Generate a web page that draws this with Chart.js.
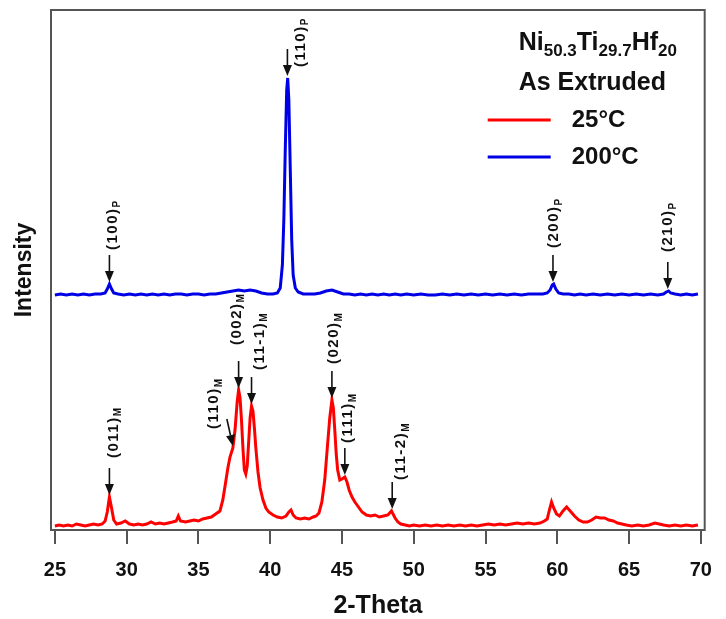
<!DOCTYPE html>
<html>
<head>
<meta charset="utf-8">
<script src="https://cdn.jsdelivr.net/npm/chart.js@4.4.1/dist/chart.umd.min.js"></script>
<style>
  html, body { margin: 0; padding: 0; background: #fff; }
</style>
</head>
<body>
<canvas id="xrdChart" width="726" height="619"></canvas>
<script>
// 2-theta / intensity pairs (arbitrary units, 200C pattern offset upward)
var pattern25C = [
  [25.0,4],[25.3,5],[25.6,4],[25.9,5],[26.2,4],[26.5,6],[26.8,5],[27.1,4],[27.4,5],[27.7,6],[28.0,5],[28.3,6],
  [28.5,9],[28.65,18],[28.8,33],[28.95,22],[29.1,10],[29.3,6],[29.6,7],[29.9,9],[30.2,6],[30.5,5],[30.8,6],
  [31.1,5],[31.4,6],[31.7,8],[32.0,6],[32.3,7],[32.6,6],[32.9,7],[33.2,8],[33.45,9],[33.6,14],[33.75,9],
  [34.1,8],[34.4,9],[34.7,10],[35.0,9],[35.3,11],[35.6,12],[35.9,13],[36.2,16],[36.5,19],[36.7,30],[36.9,48],
  [37.05,62],[37.2,73],[37.4,82],[37.55,100],[37.7,128],[37.8,140],[37.9,132],[38.0,110],[38.1,82],[38.2,60],
  [38.3,56],[38.4,64],[38.5,88],[38.6,112],[38.7,124],[38.8,119],[38.9,102],[39.0,82],[39.15,58],[39.3,42],
  [39.5,30],[39.7,22],[39.9,18],[40.2,15],[40.5,13],[40.8,12],[41.1,14],[41.3,18],[41.45,20],[41.6,15],
  [41.8,12],[42.1,11],[42.4,12],[42.7,11],[43.0,13],[43.2,14],[43.4,17],[43.6,28],[43.8,50],[44.0,86],
  [44.15,112],[44.3,130],[44.4,122],[44.5,100],[44.6,76],[44.7,60],[44.85,50],[45.0,51],[45.2,53],[45.35,48],
  [45.5,40],[45.7,33],[45.9,28],[46.1,24],[46.4,18],[46.7,15],[47.0,14],[47.3,15],[47.6,13],[47.9,14],
  [48.2,15],[48.45,19],[48.7,12],[48.9,8],[49.1,6],[49.4,5],[49.7,4],[50.0,5],[50.4,4],[50.8,5],[51.2,4],
  [51.6,5],[52.0,4],[52.4,5],[52.8,4],[53.2,5],[53.6,4],[54.0,5],[54.4,4],[54.8,5],[55.2,6],[55.6,5],
  [56.0,6],[56.4,5],[56.8,6],[57.2,7],[57.6,6],[58.0,7],[58.4,6],[58.8,7],[59.1,9],[59.3,11],[59.45,20],
  [59.6,28],[59.75,22],[59.95,16],[60.15,14],[60.4,19],[60.65,23],[60.9,19],[61.2,14],[61.5,10],[61.8,8],
  [62.1,8],[62.4,10],[62.7,13],[63.0,12],[63.3,12],[63.6,10],[63.9,9],[64.2,7],[64.5,6],[64.8,5],[65.2,4],
  [65.6,5],[66.0,4],[66.4,5],[66.8,7],[67.1,6],[67.4,5],[67.8,4],[68.2,5],[68.6,4],[69.0,5],[69.4,4],[69.8,5]
];

var pattern200C = [
  [25.0,235],[25.4,236],[25.8,235],[26.2,236],[26.6,235],[27.0,236],[27.4,235],[27.8,236],[28.2,236],
  [28.5,237],[28.65,241],[28.8,246],[28.95,241],[29.1,237],[29.4,236],[29.8,235],[30.2,236],[30.6,235],
  [31.0,236],[31.4,235],[31.8,236],[32.2,235],[32.6,236],[33.0,235],[33.4,236],[33.8,236],[34.2,235],
  [34.6,236],[35.0,236],[35.4,235],[35.8,236],[36.2,236],[36.6,237],[37.0,238],[37.4,239],[37.8,240],
  [38.2,239],[38.6,240],[39.0,239],[39.4,237],[39.8,236],[40.2,236],[40.5,237],[40.7,242],[40.85,265],
  [40.95,310],[41.05,380],[41.15,440],[41.22,452],[41.3,430],[41.4,360],[41.5,290],[41.6,255],[41.75,242],
  [41.95,238],[42.3,236],[42.7,236],[43.1,236],[43.5,237],[43.9,239],[44.3,240],[44.7,238],[45.1,236],
  [45.5,236],[45.9,235],[46.3,236],[46.7,235],[47.1,236],[47.5,235],[47.9,236],[48.3,235],[48.7,236],
  [49.1,235],[49.5,236],[50.0,235],[50.5,236],[51.0,235],[51.5,235],[52.0,236],[52.5,235],[53.0,236],
  [53.5,235],[54.0,236],[54.5,235],[55.0,236],[55.5,235],[56.0,236],[56.5,235],[57.0,236],[57.5,235],
  [58.0,236],[58.5,236],[59.0,236],[59.3,237],[59.5,240],[59.65,245],[59.75,246],[59.9,241],[60.1,237],
  [60.4,236],[60.8,236],[61.2,235],[61.6,236],[62.0,235],[62.5,236],[63.0,235],[63.5,236],[64.0,235],
  [64.5,236],[65.0,235],[65.5,236],[66.0,235],[66.5,236],[67.0,235],[67.4,236],[67.6,238],[67.75,239],
  [67.9,237],[68.2,236],[68.6,235],[69.0,236],[69.4,235],[69.8,236]
];

var xTicks = [25, 30, 35, 40, 45, 50, 55, 60, 65, 70];

// peak indexing
var austeniteHkl = ['(100)', '(110)', '(200)', '(210)'];
var austeniteTheta = [28.8, 41.2, 59.7, 67.7];
var martensiteHkl = ['(011)', '(110)', '(002)', '(11-1)', '(020)', '(111)', '(11-2)'];
var martensiteTheta = [28.8, 37.4, 37.8, 38.7, 44.3, 45.2, 48.5];

var seriesNames = ['25°C', '200°C'];
var alloyName = [['Ni', '50.3'], ['Ti', '29.7'], ['Hf', '20']];
var stateName = 'As Extruded';

function toXY(arr) {
  return arr.map(function (p) { return { x: p[0], y: p[1] }; });
}

// label nudges so the tags sit like in the figure (dx, gap above arrow, arrow lean)
var austeniteNudge = [{dx: 3, gap: 5}, {dx: 13, gap: -18}, {dx: 1, gap: 7}, {dx: 0, gap: 10}];
var martensiteNudge = [{dx: 4, gap: 10}, {dx: -19, gap: -10, lean: -6}, {dx: -2, gap: 16}, {dx: 8, gap: 7},
                       {dx: 2, gap: 7}, {dx: 3, gap: 5}, {dx: 9, gap: 2}];

function nearestY(arr, x) {
  var best = arr[0];
  arr.forEach(function (p) { if (Math.abs(p[0] - x) < Math.abs(best[0] - x)) best = p; });
  return best[1];
}

function drawArrow(ctx, x0, y0, x1, y1) {
  var ang = Math.atan2(y1 - y0, x1 - x0);
  var head = 11, half = 4.5;
  ctx.beginPath();
  ctx.moveTo(x0, y0);
  ctx.lineTo(x1 - Math.cos(ang) * head, y1 - Math.sin(ang) * head);
  ctx.stroke();
  ctx.beginPath();
  ctx.moveTo(x1, y1);
  ctx.lineTo(x1 - Math.cos(ang) * head - Math.sin(ang) * half, y1 - Math.sin(ang) * head + Math.cos(ang) * half);
  ctx.lineTo(x1 - Math.cos(ang) * head + Math.sin(ang) * half, y1 - Math.sin(ang) * head - Math.cos(ang) * half);
  ctx.closePath();
  ctx.fill();
}

function drawTag(ctx, x, yBottom, main, sub) {
  ctx.save();
  ctx.translate(x, yBottom);
  ctx.rotate(-Math.PI / 2);
  ctx.textAlign = 'left';
  ctx.textBaseline = 'middle';
  ctx.font = 'bold 15px "Liberation Sans", Arial, sans-serif';
  ctx.letterSpacing = '1.5px';
  ctx.fillText(main, 0, 0);
  var w = ctx.measureText(main).width;
  ctx.font = 'bold 10px "Liberation Sans", Arial, sans-serif';
  ctx.letterSpacing = '0px';
  ctx.fillText(sub, w, 5);
  ctx.restore();
}

var peakTags = {
  id: 'peakTags',
  afterDatasetsDraw: function (chart) {
    var ctx = chart.ctx, xs = chart.scales.x, ys = chart.scales.y, area = chart.chartArea;
    ctx.save();
    ctx.strokeStyle = '#111';
    ctx.fillStyle = '#111';
    ctx.lineWidth = 1.6;
    function tagSet(hkl, theta, nudge, sub, data) {
      hkl.forEach(function (h, i) {
        var n = nudge[i];
        var tipX = xs.getPixelForValue(theta[i]);
        var tipY = ys.getPixelForValue(nearestY(data, theta[i])) - 2;
        var topY = tipY - 27;
        drawArrow(ctx, tipX + (n.lean || 0), topY, tipX, tipY);
        drawTag(ctx, tipX + n.dx, topY - n.gap, h, sub);
      });
    }
    tagSet(austeniteHkl, austeniteTheta, austeniteNudge, 'P', pattern200C);
    tagSet(martensiteHkl, martensiteTheta, martensiteNudge, 'M', pattern25C);

    // plot frame
    ctx.strokeStyle = '#555';
    ctx.lineWidth = 2;
    ctx.strokeRect(area.left, area.top, area.right - area.left, area.bottom - area.top);

    // legend block
    var lx = area.right - 201;
    ctx.fillStyle = '#111';
    ctx.textBaseline = 'alphabetic';
    ctx.textAlign = 'left';
    var cx = lx + 15;
    alloyName.forEach(function (part) {
      ctx.font = 'bold 25px "Liberation Sans", Arial, sans-serif';
      ctx.fillText(part[0], cx, 50);
      cx += ctx.measureText(part[0]).width;
      ctx.font = 'bold 17px "Liberation Sans", Arial, sans-serif';
      ctx.fillText(part[1], cx, 56);
      cx += ctx.measureText(part[1]).width;
    });
    ctx.font = 'bold 25px "Liberation Sans", Arial, sans-serif';
    ctx.fillText(stateName, lx + 15, 90);
    var colors = ['#ff0000', '#0000e6'];
    ctx.lineWidth = 3;
    seriesNames.forEach(function (name, i) {
      var y = 120 + i * 37;
      ctx.strokeStyle = colors[i];
      ctx.beginPath();
      ctx.moveTo(lx - 16, y);
      ctx.lineTo(lx + 47, y);
      ctx.stroke();
      ctx.textBaseline = 'middle';
      ctx.font = 'bold 24px "Liberation Sans", Arial, sans-serif';
      ctx.fillText(name, lx + 68, y);
    });
    ctx.restore();
  }
};

var ctxEl = document.getElementById('xrdChart');
var xrdChart = new Chart(ctxEl, {
  type: 'line',
  data: {
    datasets: [{
      label: seriesNames[0],
      data: toXY(pattern25C),
      borderColor: '#ff0000',
      borderWidth: 3,
      pointRadius: 0,
      tension: 0
    }, {
      label: seriesNames[1],
      data: toXY(pattern200C),
      borderColor: '#0000e6',
      borderWidth: 3,
      pointRadius: 0,
      tension: 0
    }]
  },
  options: {
    responsive: false,
    animation: false,
    devicePixelRatio: 1,
    layout: { padding: { top: 10, right: 10, left: 0, bottom: 0 } },
    plugins: { legend: { display: false }, tooltip: { enabled: false } },
    scales: {
      x: {
        type: 'linear',
        min: 24.73,
        max: 70.27,
        afterBuildTicks: function (axis) { axis.ticks = xTicks.map(function (v) { return { value: v }; }); },
        afterFit: function (axis) { axis.height = 89; },
        ticks: {
          color: '#111',
          padding: 14,
          maxRotation: 0,
          font: { family: '"Liberation Sans", Arial, sans-serif', size: 20, weight: 'bold' }
        },
        grid: { drawOnChartArea: false, drawTicks: true, tickLength: 14, color: '#555', lineWidth: 2 },
        border: { display: false },
        title: {
          display: true,
          text: '2-Theta',
          color: '#111',
          padding: 0,
          font: { family: '"Liberation Sans", Arial, sans-serif', size: 25, weight: 'bold', lineHeight: 1 }
        }
      },
      y: {
        min: 0,
        max: 520,
        afterFit: function (axis) { axis.width = 51; },
        ticks: { display: false },
        grid: { display: false },
        border: { display: false },
        title: {
          display: true,
          text: 'Intensity',
          color: '#111',
          padding: { top: 13, bottom: 0 },
          font: { family: '"Liberation Sans", Arial, sans-serif', size: 23, weight: 'bold', lineHeight: 1 }
        }
      }
    }
  },
  plugins: [peakTags]
});
</script>
</body>
</html>
